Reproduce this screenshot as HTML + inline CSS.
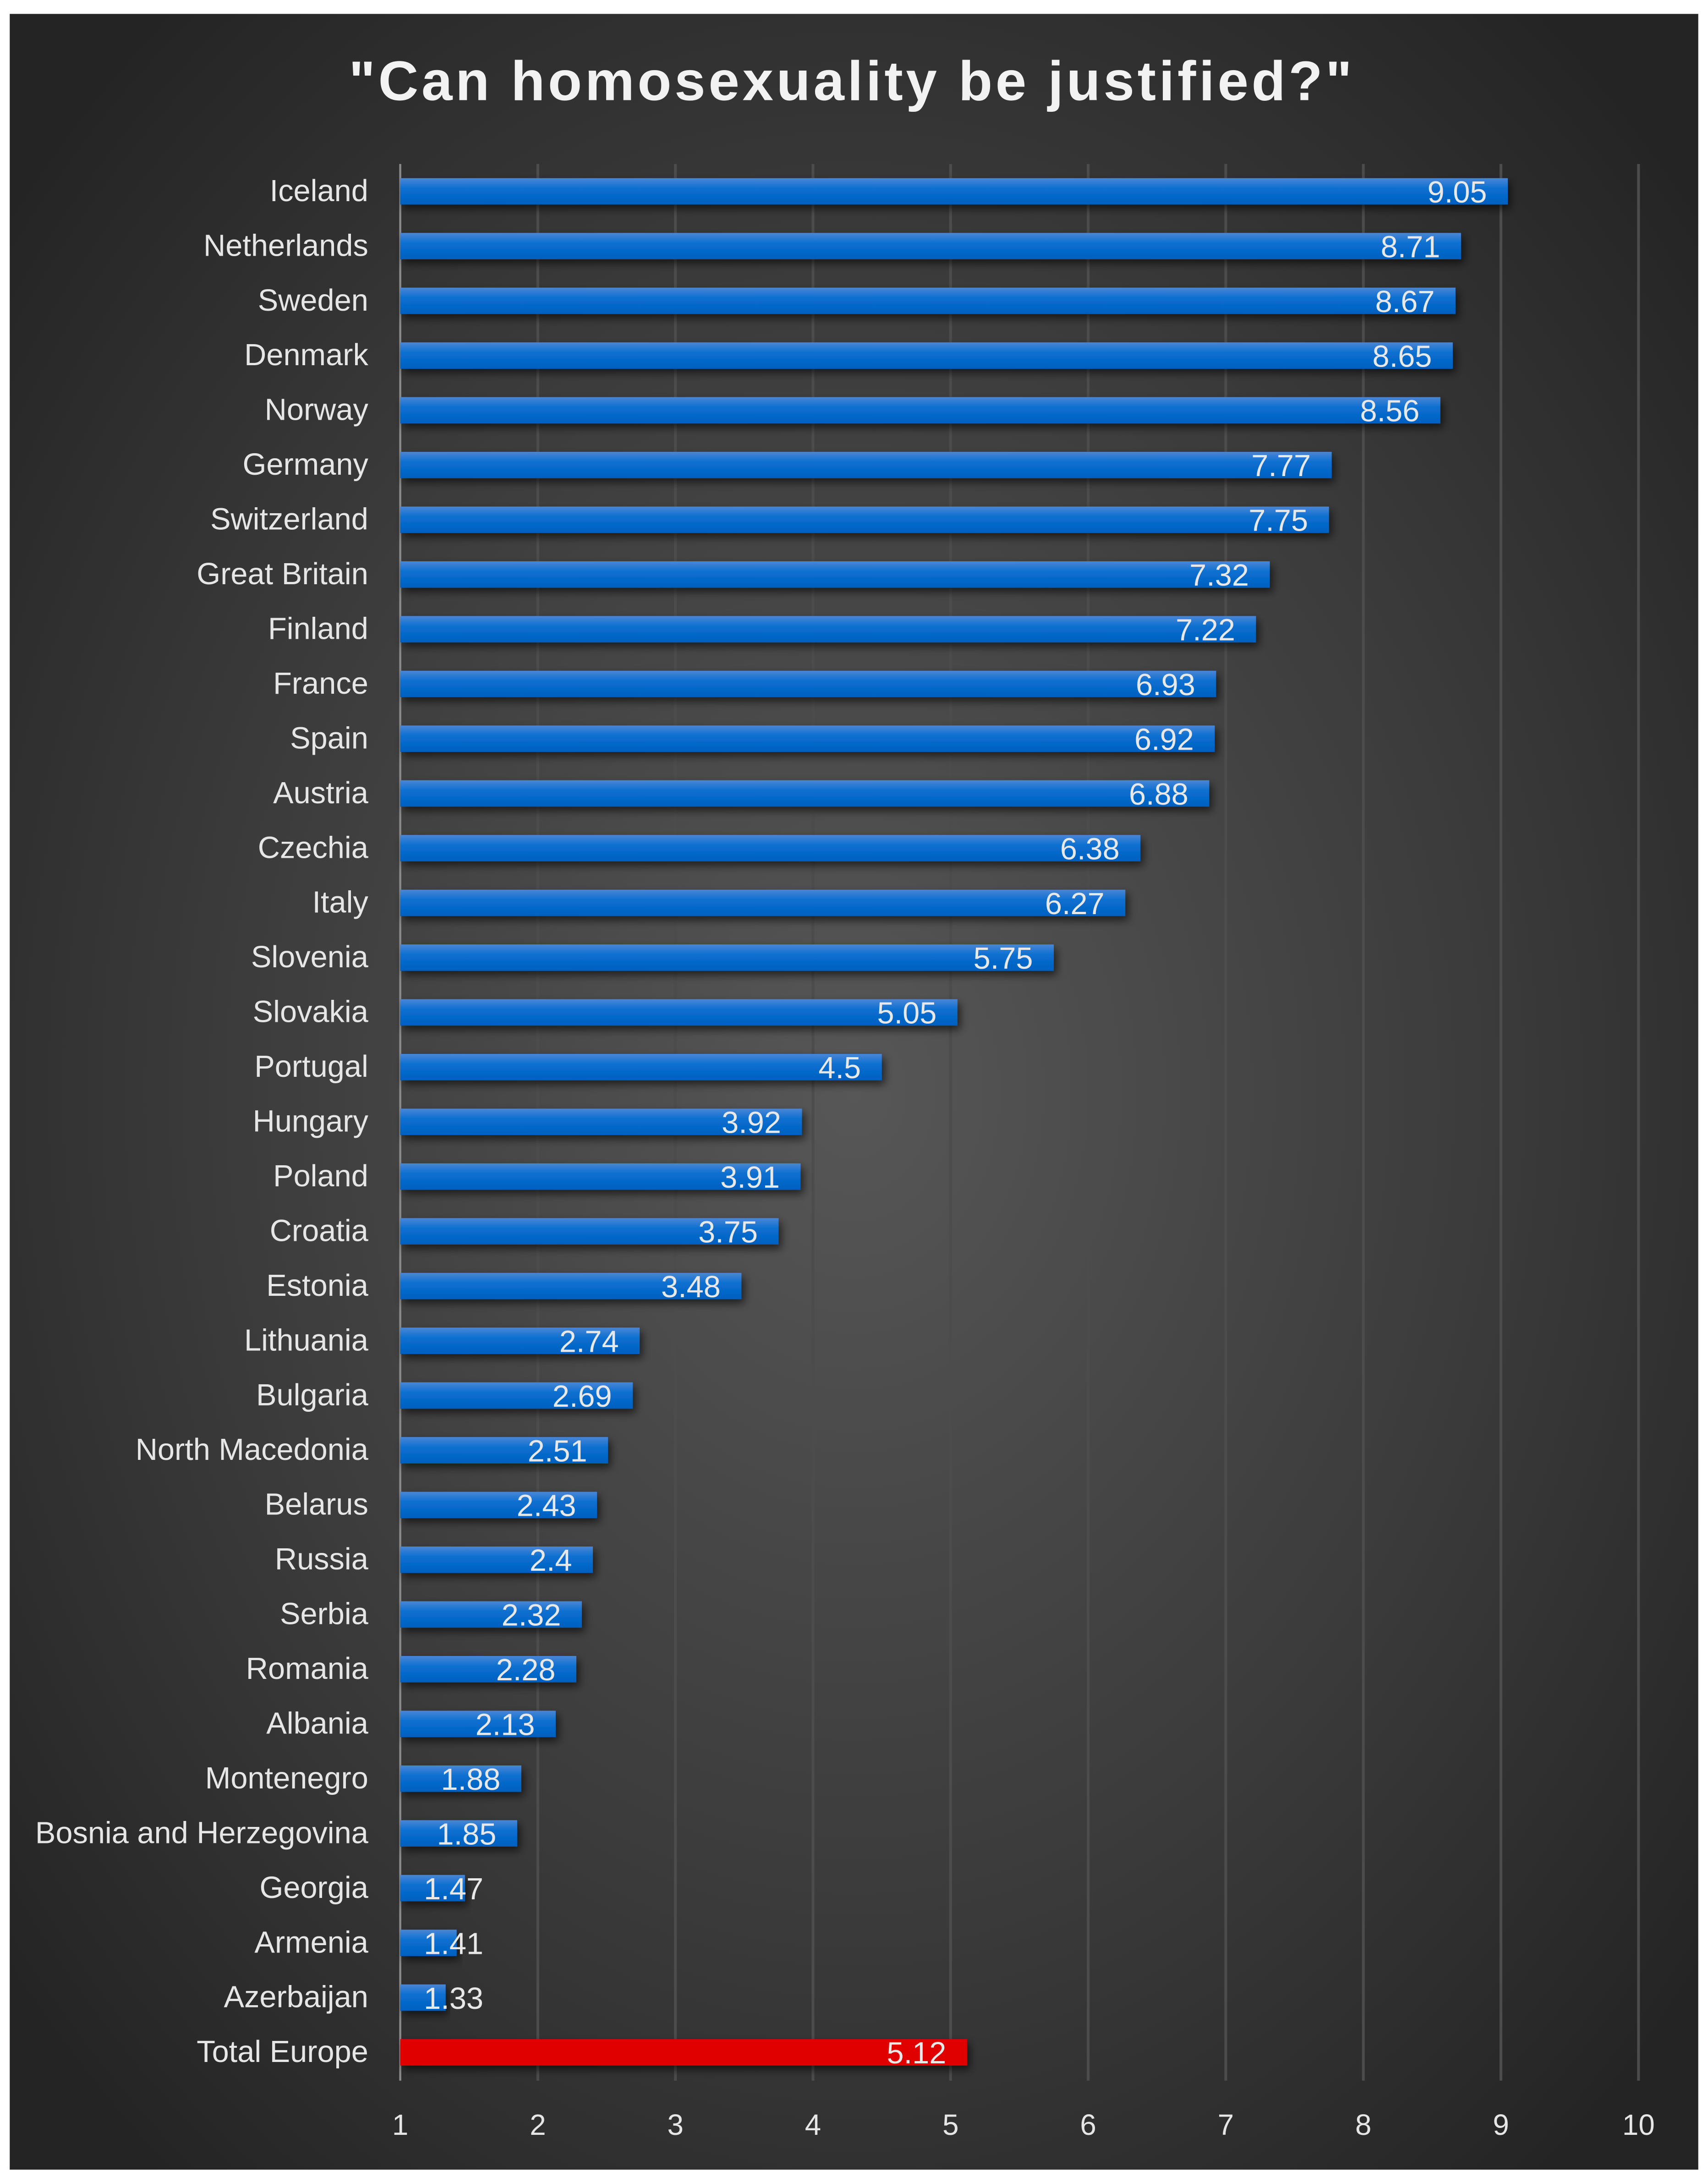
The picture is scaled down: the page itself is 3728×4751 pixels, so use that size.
<!DOCTYPE html>
<html><head><meta charset="utf-8"><style>
html,body{margin:0;padding:0;background:#fff;}
svg{display:block;}
text{font-family:"Liberation Sans",sans-serif;}
</style></head><body>
<svg id="chart" width="3728" height="4751" viewBox="0 0 1229 1566.3" preserveAspectRatio="none" xmlns="http://www.w3.org/2000/svg">
<defs>
<radialGradient id="bg" cx="0.5" cy="0.5" r="0.65">
<stop offset="0" stop-color="#575757"/>
<stop offset="0.6" stop-color="#3a3a3a"/>
<stop offset="1" stop-color="#242424"/>
</radialGradient>
<linearGradient id="blue" x1="0" y1="0" x2="0" y2="1">
<stop offset="0" stop-color="#4a86d6"/>
<stop offset="0.4" stop-color="#0a6fd0"/>
<stop offset="1" stop-color="#0060c0"/>
</linearGradient>
<filter id="sh" x="-5%" y="-50%" width="115%" height="250%"><feDropShadow dx="2" dy="3" stdDeviation="3" flood-color="#000" flood-opacity="0.6"/></filter>
</defs>
<rect x="7" y="10" width="1215" height="1551" fill="url(#bg)"/>
<text x="613" y="72" text-anchor="middle" font-size="40" font-weight="bold" fill="#f2f2f2" letter-spacing="2.2">"Can homosexuality be justified?"</text>
<g id="grid"></g>
<g id="bars"></g>
<g id="labels"></g>
</svg>
<script>
const categories=["Iceland","Netherlands","Sweden","Denmark","Norway","Germany","Switzerland","Great Britain","Finland","France","Spain","Austria","Czechia","Italy","Slovenia","Slovakia","Portugal","Hungary","Poland","Croatia","Estonia","Lithuania","Bulgaria","North Macedonia","Belarus","Russia","Serbia","Romania","Albania","Montenegro","Bosnia and Herzegovina","Georgia","Armenia","Azerbaijan","Total Europe"];
const values=[9.05,8.71,8.67,8.65,8.56,7.77,7.75,7.32,7.22,6.93,6.92,6.88,6.38,6.27,5.75,5.05,4.5,3.92,3.91,3.75,3.48,2.74,2.69,2.51,2.43,2.4,2.32,2.28,2.13,1.88,1.85,1.47,1.41,1.33,5.12];
const valueLabels=["9.05","8.71","8.67","8.65","8.56","7.77","7.75","7.32","7.22","6.93","6.92","6.88","6.38","6.27","5.75","5.05","4.5","3.92","3.91","3.75","3.48","2.74","2.69","2.51","2.43","2.4","2.32","2.28","2.13","1.88","1.85","1.47","1.41","1.33","5.12"];
const ticks=[1,2,3,4,5,6,7,8,9,10];
const NS="http://www.w3.org/2000/svg";
const x0=288,x1=1179,vmin=1,vmax=10;
const xs=v=>x0+(v-vmin)/(vmax-vmin)*(x1-x0);
const yTop=118,step=39.38;
const yc=i=>yTop+step*(i+0.5);
const barH=19;
function mk(tag,attrs,parent){const e=document.createElementNS(NS,tag);for(const k in attrs)e.setAttribute(k,attrs[k]);parent.appendChild(e);return e;}
const grid=document.getElementById('grid'),bars=document.getElementById('bars'),labels=document.getElementById('labels');
ticks.forEach((t)=>{
  const l=mk('line',{x1:xs(t),x2:xs(t),y1:yTop,y2:1497,stroke:t===1?'#8a8a8a':'#4c4c4c','stroke-width':t===1?1.5:2},grid);
  
  
  const tx=mk('text',{x:xs(t),y:1536,'text-anchor':'middle','font-size':21,fill:'#e6e6e6'},labels);
  tx.textContent=String(t);
  
  
});
categories.forEach((c,i)=>{
  const y=yc(i);
  const last=i===categories.length-1;
  const r=mk('rect',{x:xs(vmin),y:y-barH/2,width:xs(values[i])-xs(vmin),height:barH,fill:last?'#e00000':'url(#blue)',filter:'url(#sh)'},bars);
  
  
  const cl=mk('text',{x:265,y:y+7,'text-anchor':'end','font-size':22,fill:'#e6e6e6'},labels);
  cl.textContent=c;
  
  
  const vl=mk('text',{x:0,y:y+8,'text-anchor':'start','font-size':22,fill:'#e8e8e8'},labels);
  vl.textContent=valueLabels[i];
  
  
  const w=vl.getComputedTextLength();
  const sx=Math.max(xs(values[i])-15-w,305);
  vl.setAttribute('x',sx);
});
</script>
</body></html>
